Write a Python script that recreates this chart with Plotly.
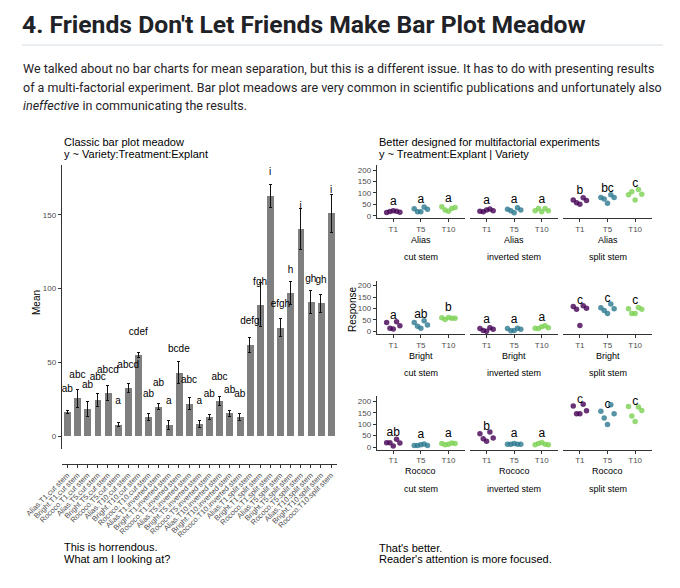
import plotly.graph_objects as go

W, H = 680, 588

# ---------------- data ----------------
VARIETIES = ["Alias", "Bright", "Rococo"]
TREATMENTS = ["T1", "T5", "T10"]
EXPLANTS = ["cut stem", "inverted stem", "split stem"]

# classic bar meadow: order = explant > treatment > variety
BAR_MEAN = [16, 25.6, 18.5, 24.4, 29, 7.7, 32.6, 55, 13,
            20, 7.7, 43, 22, 8, 13, 24, 15.5, 13,
            62, 89, 163, 73.5, 97, 140.5, 91, 90, 151]
BAR_SE = [1, 6, 5, 4.5, 5, 1.5, 3, 2, 2.5,
          2, 3, 7.5, 4, 2.5, 1.5, 3, 2, 2.5,
          5, 15, 8, 6, 8, 14, 8, 6, 13]
BAR_LETTERS = ["ab", "abc", "ab", "abc", "abcd", "a", "abcd", "cdef", "ab",
               "ab", "a", "bcde", "abc", "a", "ab", "abc", "ab", "ab",
               "defg", "fgh", "i", "efgh", "h", "i", "gh", "gh", "i"]

# faceted dot plot: per variety, per explant, per treatment (T1, T5, T10)
POINTS_ALIAS = [
    [[14, 18, 22, 20, 15], [30, 17, 17, 38, 28], [39, 25, 20, 32, 36]],
    [[20, 17, 25, 29, 22], [28, 22, 13, 35, 25], [22, 32, 17, 32, 22]],
    [[69, 57, 50, 79, 66], [80, 73, 54, 92, 80], [92, 105, 69, 115, 94]],
]
POINTS_BRIGHT = [
    [[39, 14, 10, 42, 25], [39, 22, 14, 46, 28], [59, 52, 61, 57, 57]],
    [[12, 4, 0, 16, 9], [12, 3, 4, 14, 9], [14, 12, 20, 25, 16]],
    [[109, 97, 26, 112, 101], [103, 91, 78, 120, 99], [99, 78, 78, 104, 97]],
]
POINTS_ROCOCO = [
    [[19, 19, 4, 34, 18], [7, 7, 10, 13, 7], [15, 10, 12, 18, 15]],
    [[58, 36, 25, 66, 39], [12, 12, 15, 12, 12], [10, 15, 20, 12, 10]],
    [[180, 146, 146, 187, 159], [156, 127, 99, 185, 146], [177, 136, 112, 175, 160]],
]
LETTERS_ALIAS = [["a", "a", "a"], ["a", "a", "a"], ["b", "bc", "c"]]
LETTERS_BRIGHT = [["a", "ab", "b"], ["a", "a", "a"], ["c", "c", "c"]]
LETTERS_ROCOCO = [["ab", "a", "a"], ["b", "a", "a"], ["c", "c", "c"]]

POINTS = [POINTS_ALIAS, POINTS_BRIGHT, POINTS_ROCOCO]
LETTERS = [LETTERS_ALIAS, LETTERS_BRIGHT, LETTERS_ROCOCO]

# ---------------- style ----------------
GG = "Liberation Sans, Arial, sans-serif"
GH = "Roboto, Liberation Sans, sans-serif"
TXT = "#1f2328"
TICK_GREY = "#4d4d4d"
COLORS = ["rgba(68,1,84,0.8)", "rgba(42,120,142,0.8)", "rgba(122,209,81,0.8)"]
JITTER = [-0.24, -0.12, 0.0, 0.12, 0.24]
PAGE_OFF = 8  # page body margin


def px(x):
    return (x - PAGE_OFF) / W


def py(y):
    return 1 - (y - PAGE_OFF) / H


fig = go.Figure()
annotations = []
shapes = []

# ---------------- left: bar meadow ----------------
cats = []
for e in EXPLANTS:
    for t in TREATMENTS:
        for v in VARIETIES:
            cats.append(f"{v}.{t}.{e}")

fig.add_trace(go.Bar(
    x=cats, y=BAR_MEAN, width=0.68,
    marker=dict(color="#7f7f7f", line=dict(width=0)),
    error_y=dict(type="data", array=BAR_SE, color="#111", thickness=1, width=1.5),
    xaxis="x", yaxis="y", hoverinfo="skip"))
fig.add_trace(go.Scatter(
    x=cats, y=[m + 15.5 for m in BAR_MEAN], mode="text", text=BAR_LETTERS,
    textfont=dict(family=GG, size=10, color="black"),
    xaxis="x", yaxis="y", hoverinfo="skip"))

layout_axes = {}
layout_axes["xaxis"] = dict(
    domain=[px(61.7), px(336.7)], range=[-0.55, 26.55], anchor="free",
    position=py(464), type="category", showgrid=False, zeroline=False, automargin=False,
    showline=True, linecolor="#333", linewidth=1, ticks="outside", ticklen=3,
    tickcolor="#333", tickangle=-45, tickfont=dict(family=GG, size=7.5, color=TICK_GREY))
layout_axes["yaxis"] = dict(
    domain=[py(449), py(165)], range=[-8.82, 183.9], anchor="x", automargin=False,
    showgrid=False, zeroline=False, showline=True, linecolor="#333", linewidth=1,
    ticks="outside", ticklen=3, tickcolor="#333", tickvals=[0, 50, 100, 150],
    tickfont=dict(family=GG, size=8, color=TICK_GREY))

# ---------------- right: faceted dots ----------------
col_dom = [(376.7, 465.0), (470.0, 558.3), (563.3, 651.7)]
row_step = 115.65


def note(x, y, text, size, family=GG, color="black", angle=0, xanchor="left"):
    annotations.append(dict(x=px(x), y=py(y), xref="paper", yref="paper", text=text,
                            showarrow=False, xanchor=xanchor, yanchor="middle",
                            textangle=angle, font=dict(family=family, size=size, color=color)))


for r, v in enumerate(VARIETIES):
    top = 165 + row_step * r
    bot = 218.3 + row_step * r
    for c, e in enumerate(EXPLANTS):
        n = 2 + r * 3 + c
        xa, ya = f"x{n}", f"y{n}"
        for k, t in enumerate(TREATMENTS):
            vals = POINTS[r][c][k]
            fig.add_trace(go.Scatter(
                x=[k + 1 + JITTER[i % len(JITTER)] for i in range(len(vals))], y=vals,
                mode="markers", marker=dict(color=COLORS[k], size=5.5, line=dict(width=0)),
                xaxis=xa, yaxis=ya, hoverinfo="skip"))
            mean = sum(vals) / len(vals)
            fig.add_trace(go.Scatter(
                x=[k + 1], y=[mean + 43], mode="text", text=[LETTERS[r][c][k]],
                textfont=dict(family=GG, size=12, color="black"),
                xaxis=xa, yaxis=ya, hoverinfo="skip"))
        layout_axes[f"xaxis{n}"] = dict(
            domain=[px(col_dom[c][0]), px(col_dom[c][1])], range=[0.4, 3.6], anchor=ya,
            tickvals=[1, 2, 3], ticktext=TREATMENTS, showgrid=False, zeroline=False,
            automargin=False,
            showline=True, linecolor="#333", linewidth=1, ticks="outside", ticklen=3,
            tickcolor="#333", tickfont=dict(family=GG, size=8, color=TICK_GREY))
        ydict = dict(domain=[py(bot), py(top)], range=[-11.4, 222], anchor=xa,
                     showgrid=False, zeroline=False, automargin=False)
        if c == 0:
            ydict.update(showline=True, linecolor="#333", linewidth=1, ticks="outside",
                         ticklen=3, tickcolor="#333", tickvals=[0, 50, 100, 150, 200],
                         tickfont=dict(family=GG, size=8, color=TICK_GREY))
        else:
            ydict.update(showline=False, showticklabels=False, ticks="")
        layout_axes[f"yaxis{n}"] = ydict
        cx = (col_dom[c][0] + col_dom[c][1]) / 2
        note(cx, 240 + row_step * r, v, 9, xanchor="center")
        note(cx, 257.3 + row_step * r, e, 9, xanchor="center")

# ---------------- text ----------------
note(20, 24, "<b>4. Friends Don't Let Friends Make Bar Plot Meadow</b>", 24.7, GH, TXT)
shapes.append(dict(type="line", xref="paper", yref="paper", x0=px(22), x1=px(663),
                   y0=py(45), y1=py(45), line=dict(color="#d8dee4", width=1)))
note(21, 69, "We talked about no bar charts for mean separation, but this is a different issue. "
             "It has to do with presenting results", 12.5, GH, TXT)
note(21, 87.5, "of a multi-factorial experiment. Bar plot meadows are very common in scientific "
               "publications and unfortunately also", 12.5, GH, TXT)
note(21, 106, "<i>ineffective</i> in communicating the results.", 12.5, GH, TXT)

note(62, 141.7, "Classic bar plot meadow", 11)
note(62, 153.5, "y ~ Variety:Treatment:Explant", 11)
note(377, 141.7, "Better designed for multifactorial experiments", 11)
note(377, 154, "y ~ Treatment:Explant | Variety", 11)
note(37, 303, "Mean", 10, angle=-90, xanchor="center")
note(352, 310, "Response", 10, angle=-90, xanchor="center")
note(62, 547, "This is horrendous.", 11)
note(62, 559, "What am I looking at?", 11)
note(377, 547.5, "That's better.", 11)
note(377, 559, "Reader's attention is more focused.", 11)

fig.update_layout(
    width=W, height=H, margin=dict(l=0, r=0, t=0, b=0, autoexpand=False),
    paper_bgcolor="white", plot_bgcolor="white", showlegend=False,
    annotations=annotations, shapes=shapes, bargap=0, **layout_axes)

fig.write_html("out.html")
